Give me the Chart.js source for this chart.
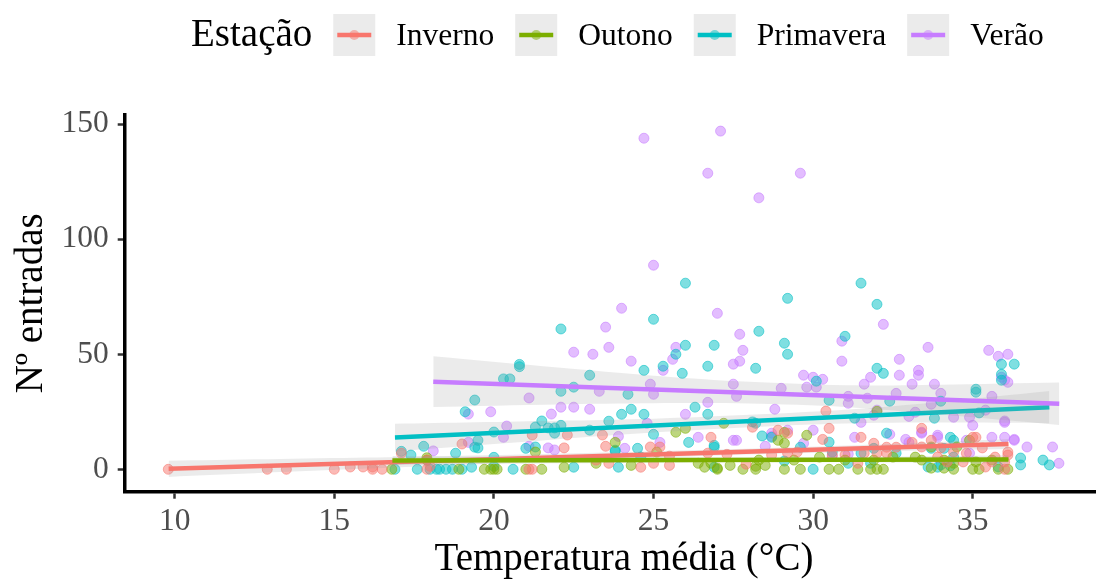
<!DOCTYPE html>
<html>
<head>
<meta charset="utf-8">
<script src="https://cdn.jsdelivr.net/npm/chart.js@4"></script>
<style>
  html, body { margin: 0; padding: 0; background: #fff; }
</style>
</head>
<body>
<canvas id="myChart" width="1101" height="583"></canvas>
<script>
// Seasons and colours
const seasons = ["Inverno", "Outono", "Primavera", "Verão"];
const seasonRGB = ["248,118,109", "124,174,0", "0,191,196", "199,124,255"];

// Axis ticks
const xTicks = [10, 15, 20, 25, 30, 35];
const yTicks = [0, 50, 100, 150];

// Points [temperature, entries]
const inverno = [
  [9.8,0],[12.9,0],[13.5,0],[15.0,0],[15.5,1],[15.9,1],[16.2,1],[16.2,0],[16.5,0],[17.1,7],[17.9,4],[17.9,0],[18.0,1.3],
  [19.0,11],[21.2,14.9],[22.3,14.9],[23.4,14.9],[22.2,9.3],[23.5,10],[24.9,9.7],[25.2,9.7],[25.5,5.7],[21.1,0],[21.2,0],
  [23.6,2.6],[24.6,0.9],[25.0,2.6],[25.5,1.7],[23.2,4],[26.8,13.9],[26.7,7],[27.3,6.5],[27.9,2.2],
  [28.1,18.3],[28.9,17],[29.2,15.7],[30.4,25.3],[30.5,17.8],[30.3,13],[31.5,13.9],[31.9,11.3],[32.3,9.6],[32.6,9.6],
  [28.7,6.2],[29.2,7],[29.5,7.5],[30.6,6.2],[31.0,6.2],[31.6,7],[32.0,7],[32.3,7],[31.4,2.6],
  [33.4,17.8],[33.1,11.7],[33.4,9.7],[33.7,12.6],[34.0,9.3],[33.9,5.3],[34.4,7.5],[34.8,7],[34.2,3.2],[34.7,3.2],
  [35.0,13.9],[35.1,13.9],[35.3,9.3],[35.7,5.3],[36.1,6.2],[36.1,7.5],[35.4,1],[36.0,0],[35.6,3.2],[36.0,3.2]
];
const outono = [
  [16.8,0],[17.9,4],[17.9,5],[18.9,0],[19.7,0],[19.9,0],[20.0,0],[20.1,0],[21.0,0],[21.3,7.5],[21.5,0],[22.2,0.9],
  [23.2,2.6],[23.8,11.7],[24.3,1.7],[25.1,7.5],[25.7,16.1],[26.0,17.8],[27.2,20],[26.4,2.6],[26.6,0.9],[26.8,2.6],
  [27.0,0],[27.0,0.5],[27.4,1.7],[27.8,0],[28.2,1.3],[28.2,0],[28.3,4],[28.5,1.7],
  [28.9,12.6],[29.1,16],[29.1,11.3],[29.8,14.8],[29.1,0],[29.4,4],[29.6,0],[30.2,5.3],[30.5,0],[30.8,0],[31.0,4],
  [31.4,0],[31.8,0],[31.9,4],[32.0,25.2],[32.0,0],[32.2,0],[32.5,5.3],
  [33.2,5.3],[33.4,4],[33.7,0.5],[33.7,9.7],[34.1,0.5],[34.1,4],[34.4,0],[34.4,2.6],[34.5,9.7],[34.9,12.6],
  [35.0,0],[35.1,3.2],[35.2,0],[35.6,4],[35.8,0],[36.1,0]
];
const primavera = [
  [26.0,80.9],[31.5,80.9],[29.2,74.3],[32.0,71.7],[25.0,65.2],[22.1,61],[28.3,60],[31.0,57.8],[29.1,54.8],[26.0,53.9],
  [26.9,53.9],[29.2,50],[25.7,50],[35.9,45.7],[36.3,45.7],[25.3,44.8],[26.7,44.8],[20.8,44.6],[20.8,45.6],[24.7,43],
  [28.2,43.9],[32.0,43.9],[32.2,41.7],[25.9,41.7],[23.0,40.9],[20.3,39.3],[20.5,39.3],[30.1,38.3],[35.9,41.3],[35.9,38.7],
  [22.5,35.7],[22.1,33.9],[24.2,32.6],[35.1,34.8],[35.1,33.5],[19.4,30.1],[30.5,30],[32.4,29.6],[34.0,29.6],[24.3,26.1],
  [26.3,27],[35.2,24.5],[19.1,25],[24.0,23.9],[24.7,23.9],[26.7,23.9],[21.5,21],[23.6,20.9],[33.8,22.2],[31.3,22.2],
  [28.2,20],[28.1,20.6],[21.3,18.4],[21.7,18],[21.9,18],[22.1,19.1],[23.0,17],[20.0,16.2],[21.9,15.7],[25.0,15.2],
  [32.3,15.7],[28.4,14.5],[28.7,13.9],[34.3,13.9],[34.4,12.6],[26.1,11.7],[30.5,11.8],[26.9,10.4],[26.9,9.6],[17.8,10],
  [19.5,12.6],[17.1,7.8],[17.4,6.2],[18.8,7],[19.4,9.6],[19.5,9.3],[21.0,9.1],[21.3,9.7],[23.8,7.8],[23.8,8.3],
  [24.5,9.1],[24.6,5.3],[19.3,0.9],[20.0,5.2],[20.0,1.3],[29.6,9.6],[30.6,7.5],[31.5,7],[31.9,9.1],[32.6,7],
  [31.8,2.6],[31.1,2.6],[29.1,3.6],[30.0,0],[33.7,9.1],[34.1,9.1],[34.4,5.3],[34.0,1.9],[34.3,1.5],[33.9,0.9],
  [33.6,1],[35.8,1],[36.5,4.9],[36.5,1.9],[37.2,4],[37.4,1.9],
  [16.9,0],[17.6,0],[18.0,0],[18.2,0],[18.3,0],[18.5,0],[18.7,0],[19.0,0],[20.6,0],[22.5,0.9],[23.9,0.9],[26.9,0.9]
];
const verao = [
  [24.7,143.9],[27.1,147],[26.7,128.7],[29.6,128.7],[28.3,118],[25.0,88.7],[24.0,70],[27.0,67.8],[23.5,61.8],[27.7,58.7],
  [23.6,53],[22.5,50.9],[23.1,50],[25.7,53],[27.8,51.7],[24.3,47],[25.6,47.8],[27.5,45.7],[27.7,47],[25.3,43],
  [27.5,37],[24.9,37],[23.3,33.9],[25.0,32.6],[27.6,31.7],[21.1,31],[26.7,29.1],[22.1,27],[22.5,27],[23.0,26.1],
  [21.8,24],[19.2,24],[19.9,25],[26.0,23.9],[20.4,18.8],[24.8,20],[20.3,13.9],[23.9,14.3],[26.4,13.9],[27.5,12.6],
  [27.6,12.6],[19.2,11.7],[21.1,10],[21.7,9.3],[21.9,8.4],[24.1,9.1],[25.2,11.7],[18.1,8],
  [32.2,63],[30.9,55.7],[33.6,53],[35.5,51.7],[35.8,49.1],[36.1,50],[30.9,47],[32.7,47.8],[29.7,40.9],[30.0,40],
  [30.3,39.1],[29.8,35.7],[30.1,35.7],[31.8,40],[31.6,37],[32.7,40.9],[33.3,43],[33.3,40.9],[35.9,40],[36.1,37.8],
  [36.0,38.8],[33.1,37],[33.8,37],[29.0,35.2],[34.0,33],[32.6,33],[31.1,31.7],[31.7,30.9],[35.6,31.7],[31.1,28.7],
  [33.7,28.3],[28.8,26.1],[32.0,25.7],[33.2,24.8],[31.9,23.5],[33.0,23],[34.4,22.6],[34.9,22.6],[35.4,25.7],[31.5,20.4],
  [35.0,19.1],[36.0,20.4],[36.0,21],[29.2,17],[28.7,15.7],[30.0,17],[31.3,13.9],[32.4,15.2],[32.9,13],[33.0,11.7],
  [33.4,15.7],[33.4,16.1],[33.9,14.8],[33.9,13.9],[34.8,12.6],[35.6,13.9],[36.0,13.9],[36.3,12.6],[36.3,13],[36.7,9.7],
  [37.5,9.7],[37.7,2.6],[28.7,14.3],[28.5,10],[29.7,11.3],[31.1,6.6],[30.6,5.7],[34.9,7]
];
const points = [inverno, outono, primavera, verao];

// Linear fits (end points) and confidence bands
const fitX = [[9.81, 36.12], [16.82, 36.12], [16.9, 37.4], [18.1, 37.71]];
const fitY = [[0.2, 11.0], [3.8, 4.3], [13.8, 27.0], [38.1, 28.5]];

const bandX = [
  [9.81, 16, 22, 27, 32, 36.12],
  [16.82, 22, 27, 32, 36.12],
  [16.9, 22, 25, 28, 31, 34, 37.4],
  [18.1, 22, 25, 28, 31, 34, 37.71]
];
const bandUpper = [
  [3.7, 5.1, 6.8, 8.6, 10.8, 13.2],
  [5.8, 5.2, 5.1, 5.4, 6.1],
  [19.8, 21.1, 22.0, 23.7, 25.9, 29.3, 34.0],
  [49.1, 44.2, 40.7, 38.0, 36.5, 36.8, 37.7]
];
const bandLower = [
  [-3.3, 0.3, 3.6, 6.0, 7.8, 8.8],
  [1.8, 2.6, 3.1, 3.0, 2.5],
  [7.8, 13.1, 16.0, 18.3, 19.9, 20.3, 20.0],
  [27.1, 28.2, 28.7, 28.6, 27.1, 23.8, 19.3]
];

const FONT = "'Liberation Serif', 'Times New Roman', serif";

const toXY = (xs, ys) => xs.map((x, i) => ({x: x, y: ys[i]}));

let datasets = [];
// scatter points, drawn underneath
seasons.forEach((s, i) => {
  datasets.push({
    type: "scatter",
    label: s,
    data: points[i].map(p => ({x: p[0], y: p[1]})),
    pointRadius: 5,
    pointBorderWidth: 1,
    backgroundColor: "rgba(" + seasonRGB[i] + ",0.5)",
    borderColor: "rgba(" + seasonRGB[i] + ",0.55)",
    order: 100
  });
});
// ribbons and fit lines, one season after another
seasons.forEach((s, i) => {
  const lowIdx = datasets.length;
  datasets.push({
    type: "line",
    data: toXY(bandX[i], bandLower[i]),
    borderWidth: 0,
    pointRadius: 0,
    fill: false,
    tension: 0.3,
    order: 50 - i * 3
  });
  datasets.push({
    type: "line",
    data: toXY(bandX[i], bandUpper[i]),
    borderWidth: 0,
    pointRadius: 0,
    backgroundColor: "rgba(153,153,153,0.2)",
    fill: lowIdx,
    tension: 0.3,
    order: 50 - i * 3 - 1
  });
  datasets.push({
    type: "line",
    data: toXY(fitX[i], fitY[i]),
    borderColor: "rgb(" + seasonRGB[i] + ")",
    borderWidth: 4.5,
    pointRadius: 0,
    fill: false,
    order: 50 - i * 3 - 2
  });
});

// legend and axis titles
const extras = {
  id: "extras",
  afterDraw(chart) {
    const ctx = chart.ctx;
    const area = chart.chartArea;
    ctx.save();
    ctx.fillStyle = "#000";
    ctx.textBaseline = "alphabetic";

    // x title, centred on the full panel
    ctx.font = "39px " + FONT;
    ctx.textAlign = "center";
    ctx.fillText("Temperatura média (°C)", 624, 570);

    // y title
    ctx.save();
    ctx.translate(42, (area.top + area.bottom) / 2);
    ctx.rotate(-Math.PI / 2);
    ctx.fillText("Nº entradas", 0, 0);
    ctx.restore();

    // legend
    ctx.textAlign = "left";
    let x = 191;
    ctx.fillText("Estação", x, 46);
    x += ctx.measureText("Estação").width + 21;
    ctx.font = "31.5px " + FONT;
    seasons.forEach((s, i) => {
      const top = 14, w = 42, h = 42, cy = top + h / 2;
      ctx.fillStyle = "#EBEBEB";
      ctx.fillRect(x, top, w, h);
      ctx.beginPath();
      ctx.arc(x + w / 2, cy, 5, 0, Math.PI * 2);
      ctx.fillStyle = "rgba(" + seasonRGB[i] + ",0.5)";
      ctx.fill();
      ctx.strokeStyle = "rgb(" + seasonRGB[i] + ")";
      ctx.lineWidth = 4.5;
      ctx.beginPath();
      ctx.moveTo(x + 4, cy);
      ctx.lineTo(x + w - 4, cy);
      ctx.stroke();
      ctx.fillStyle = "#000";
      ctx.fillText(s, x + w + 21, 45);
      x += w + 21 + ctx.measureText(s).width + 21;
    });
    ctx.restore();
  }
};

new Chart("myChart", {
  data: { datasets: datasets },
  options: {
    responsive: false,
    animation: false,
    layout: { padding: { top: 115, left: 0, right: 0, bottom: 0 } },
    plugins: {
      legend: { display: false },
      tooltip: { enabled: false }
    },
    scales: {
      x: {
        type: "linear",
        min: 8.434,
        max: 38.83,
        afterBuildTicks: s => { s.ticks = xTicks.map(v => ({value: v})); },
        afterFit: s => { s.height = 91.3; },
        ticks: { font: { family: FONT, size: 31.5 }, color: "#4D4D4D", padding: 4, maxRotation: 0, autoSkip: false },
        grid: { drawOnChartArea: false, tickLength: 7, tickColor: "#333", tickWidth: 2.5 },
        border: { display: true, color: "#000", width: 3.5 }
      },
      y: {
        type: "linear",
        min: -9.74,
        max: 154,
        afterBuildTicks: s => { s.ticks = yTicks.map(v => ({value: v})); },
        afterFit: s => { s.width = 124.7; },
        ticks: { font: { family: FONT, size: 31.5 }, color: "#4D4D4D", padding: 9 },
        grid: { drawOnChartArea: false, tickLength: 7, tickColor: "#333", tickWidth: 2.5 },
        border: { display: true, color: "#000", width: 3.5 }
      }
    }
  },
  plugins: [extras]
});
</script>
</body>
</html>
